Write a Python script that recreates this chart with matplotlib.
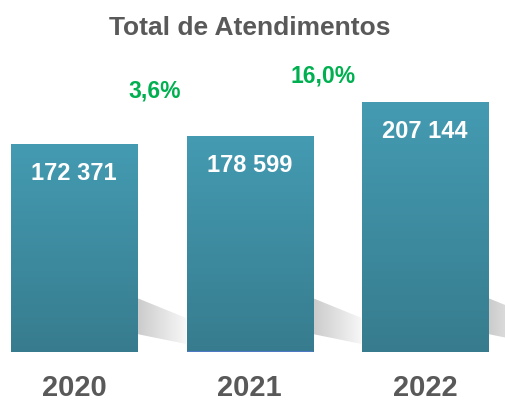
import numpy as np
import matplotlib.pyplot as plt
from matplotlib.colors import LinearSegmentedColormap
from matplotlib.patches import Polygon

years = ['2020', '2021', '2022']
totals = [172371, 178599, 207144]
value_labels = ['172 371', '178 599', '207 144']
growth_labels = ['3,6%', '16,0%']
growth_x = [0.46, 1.42]
growth_y = [216800, 229300]

font = ['Liberation Sans', 'DejaVu Sans']
gray = '#595959'
green = '#00b050'

fig = plt.figure(figsize=(5.06, 4.03), dpi=100)
ax = fig.add_axes([0, 51 / 403, 1, 352 / 403])

x = np.arange(len(years))
width = 0.718
ax.set_xlim(-0.4217, 2.4615)
ax.set_ylim(0, 292400)
upp = 292400 / 352  # data units per pixel, vertical

cmap = LinearSegmentedColormap.from_list('bar', ['#377c8e', '#449bb2'])
grad = np.linspace(0, 1, 256).reshape(-1, 1)
shade = LinearSegmentedColormap.from_list('sh', ['#cbcbcb', '#f8f8f8'])
sgrad = np.linspace(0, 1, 64).reshape(1, -1)

bars = ax.bar(x, totals, width=width, color='none')
for b in bars:
    x0, y0 = b.get_x(), b.get_y()
    w, h = b.get_width(), b.get_height()
    # soft grey shadow behind the foot of each bar
    poly = Polygon([(x0 + w, 18 * upp), (x0 + w, 54 * upp),
                    (x0 + w + 0.28, 34 * upp), (x0 + w + 0.28, 8 * upp)],
                   closed=True, fc='none', ec='none')
    ax.add_patch(poly)
    im = ax.imshow(sgrad, cmap=shade, aspect='auto', zorder=1,
                   extent=[x0 + w, x0 + w + 0.28, 0, 60 * upp])
    im.set_clip_path(poly)
    ax.imshow(grad, cmap=cmap, origin='lower', aspect='auto',
              extent=[x0, x0 + w, y0, y0 + h], zorder=2)

# thin blue edge at the foot of the middle bar
ax.plot([bars[1].get_x(), bars[1].get_x() + width], [400, 400],
        color='#4f79c4', lw=1.5, zorder=3, solid_capstyle='butt')

for xi, v, lab in zip(x, totals, value_labels):
    ax.text(xi, v - 29 * upp, lab, ha='center', va='center', color='white',
            fontsize=17, fontweight='bold', family=font, zorder=3)

for gx, gy, lab in zip(growth_x, growth_y, growth_labels):
    ax.text(gx, gy, lab, ha='center', va='center', color=green,
            fontsize=16.5, fontweight='bold', family=font)

ax.axis('off')

fig.text(0.494, 1 - 35 / 403, 'Total de Atendimentos', ha='center',
         va='baseline', color=gray, fontsize=19, fontweight='bold', family=font)

for xi, yr in zip(x, years):
    xpix = (xi + 0.4217) / (2.4615 + 0.4217)
    fig.text(xpix, 1 - 396 / 403, yr, ha='center', va='baseline', color=gray,
             fontsize=21, fontweight='bold', family=font)

fig.savefig('out.png', dpi=100)
